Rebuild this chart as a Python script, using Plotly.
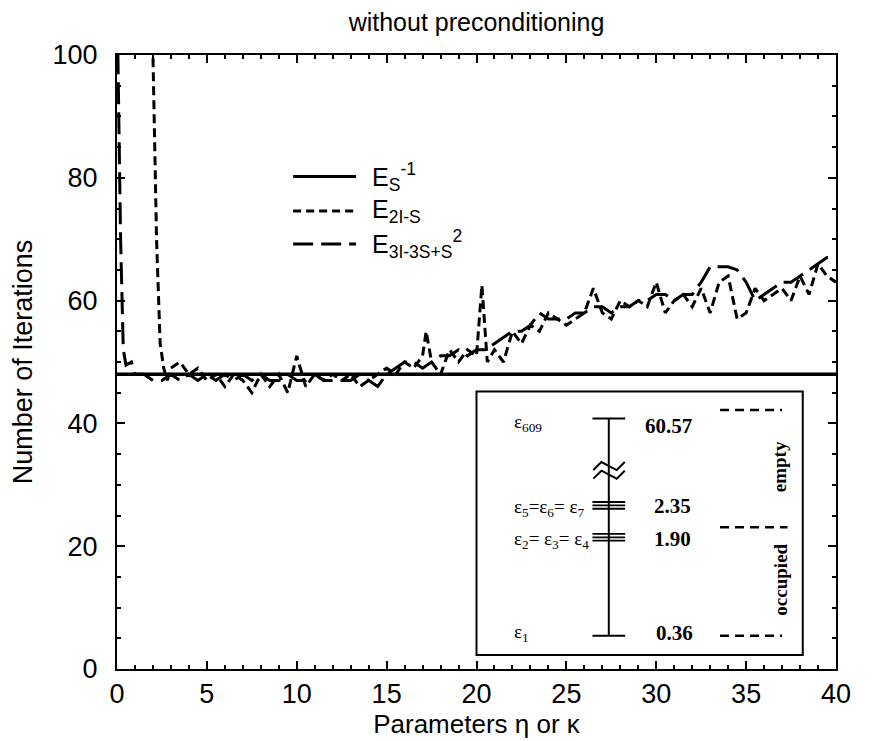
import plotly.graph_objects as go

# ---------------- data ----------------
# E_S^-1 (solid): constant number of iterations
es_x = [0.0, 40.0]
es_y = [48, 48]

# E_2I-S (short dashes)
e2_x = [1.95, 2.0, 2.2, 2.4, 2.6, 2.8,
        3.0, 3.5, 4.0, 4.5, 5.0, 5.5, 6.0, 6.5, 7.0, 7.5, 8.0, 8.5, 9.0, 9.5,
        10.0, 10.5, 11.0, 11.5, 12.0, 12.5, 13.0, 13.5, 14.0, 14.5, 15.0, 15.5,
        16.0, 16.5, 17.0, 17.2, 17.5, 18.0, 18.5, 19.0, 19.5, 20.0, 20.3, 20.6,
        21.0, 21.5, 22.0, 22.5, 23.0, 23.5, 24.0, 24.5, 25.0, 25.5, 26.0, 26.5,
        27.0, 27.5, 28.0, 28.5, 29.0, 29.5, 30.0, 30.5, 31.0, 31.5, 32.0, 32.5,
        33.0, 33.5, 34.0, 34.5, 35.0, 35.5, 36.0, 36.5, 37.0, 37.5, 38.0, 38.5,
        39.0, 39.5, 40.0]
e2_y = [120, 100, 70, 53, 49, 47,
        49, 50, 48, 49, 47, 48, 46, 48, 47, 45, 48, 46, 48, 45,
        51, 46, 48, 47, 48, 47, 48, 46, 47, 48, 49, 48,
        50, 49, 51, 55, 50, 48, 52, 50, 52, 51, 62.5, 50,
        52, 50, 55, 53, 56, 55, 58, 57, 56, 57, 58, 62,
        58, 57, 60, 59, 60, 59, 63, 58, 60, 61, 59, 62,
        58, 63, 64, 57, 58, 62, 60, 61, 62, 60, 64, 61,
        66, 64, 63]

# E_3I-3S+S^2 (long dashes)
e3_x = [0.0, 0.05, 0.2, 0.35, 0.5, 0.8,
        1.0, 1.5, 2.0, 2.5, 3.0, 3.5, 4.0, 4.5, 5.0, 5.5, 6.0, 6.5, 7.0, 7.5,
        8.0, 8.5, 9.0, 9.5, 10.0, 10.5, 11.0, 11.5, 12.0, 12.5, 13.0, 13.5,
        14.0, 14.5, 15.0, 15.5, 16.0, 16.5, 17.0, 17.5, 18.0, 18.5, 19.0, 19.5,
        20.0, 20.5, 21.0, 21.5, 22.0, 22.5, 23.0, 23.5, 24.0, 24.5, 25.0, 25.5,
        26.0, 26.5, 27.0, 27.5, 28.0, 28.5, 29.0, 29.5, 30.0, 30.5, 31.0, 31.5,
        32.0, 32.5, 33.0, 33.5, 34.0, 34.5, 35.0, 35.5, 36.0, 36.5, 37.0, 37.5,
        38.0, 38.5, 39.0, 39.5, 40.0]
e3_y = [120, 100, 70, 52, 49.5, 50,
        48, 48, 47, 47, 48, 47, 48, 47, 48, 47, 48, 47, 48, 47,
        48, 47, 47, 48, 47, 47, 48, 47, 47, 47, 47, 48,
        47, 46, 48, 49, 50, 50, 49, 50, 51, 51, 52, 51,
        52, 52, 53, 54, 55, 55, 56, 58, 57, 57, 57, 58,
        58, 59, 59, 58, 59, 59, 60, 60, 61, 61, 60, 61,
        61, 63, 65.5, 65.5, 65.5, 65, 63, 60, 61, 62, 63, 63,
        64, 65, 66, 67, 67]

legend_labels = ["E<sub>S</sub><sup>-1</sup>",
                 "E<sub>2I-S</sub>",
                 "E<sub>3I-3S+S</sub><sup>2</sup>"]

# inset: eigenvalue spectrum labels
inset_names = ["ε<sub>609</sub>",
               "ε<sub>5</sub>=ε<sub>6</sub>= ε<sub>7</sub>",
               "ε<sub>2</sub>= ε<sub>3</sub>= ε<sub>4</sub>",
               "ε<sub>1</sub>"]
inset_values = ["60.57", "2.35", "1.90", "0.36"]

x_ticks = [0, 5, 10, 15, 20, 25, 30, 35, 40]
y_ticks = [0, 20, 40, 60, 80, 100]

# ---------------- figure ----------------
SANS = "Liberation Sans, Arial, sans-serif"
SERIF = "Liberation Serif, Times New Roman, serif"

SHORT = "9px,5px"
LONG = "22px,8px"

fig = go.Figure()
fig.add_trace(go.Scatter(x=es_x, y=es_y, mode="lines",
                         line=dict(color="black", width=3.5), showlegend=False))
fig.add_trace(go.Scatter(x=e2_x, y=e2_y, mode="lines",
                         line=dict(color="black", width=3, dash=SHORT),
                         showlegend=False))
fig.add_trace(go.Scatter(x=e3_x, y=e3_y, mode="lines",
                         line=dict(color="black", width=3, dash=LONG),
                         showlegend=False))

shapes = []
annotations = []

# custom legend
leg_y = [80.2, 74.6, 69.2]
leg_dash = ["solid", "8px,5px", "20px,8px"]
for ly, ld, lt in zip(leg_y, leg_dash, legend_labels):
    shapes.append(dict(type="line", xref="x", yref="y", x0=9.8, x1=13.3,
                       y0=ly, y1=ly, line=dict(color="black", width=3, dash=ld)))
    annotations.append(dict(x=14.1, y=ly, xref="x", yref="y", text=lt,
                            showarrow=False, xanchor="left", yanchor="middle",
                            font=dict(family=SANS, size=25, color="black")))

# inset box
shapes.append(dict(type="rect", xref="x", yref="y", x0=20.0, x1=38.15,
                   y0=2.3, y1=45.2, fillcolor="white",
                   line=dict(color="black", width=2), layer="above"))
# vertical spectrum axis and caps
shapes.append(dict(type="line", xref="x", yref="y", x0=27.36, x1=27.36,
                   y0=5.4, y1=40.8, line=dict(color="black", width=2)))
for cy in [40.8, 5.4]:
    shapes.append(dict(type="line", xref="x", yref="y", x0=26.45, x1=28.27,
                       y0=cy, y1=cy, line=dict(color="black", width=2)))
for cy in [27.2, 26.65, 26.1, 22.0, 21.45, 20.9]:
    shapes.append(dict(type="line", xref="x", yref="y", x0=26.45, x1=28.27,
                       y0=cy, y1=cy, line=dict(color="black", width=1.8)))
# axis break symbol
for off in [0.0, -1.4]:
    p = "M 26.5,{a} L 26.95,{b} L 27.8,{a} L 28.25,{b}".format(a=32.4 + off, b=33.7 + off)
    shapes.append(dict(type="path", xref="x", yref="y", path=p,
                       line=dict(color="black", width=2)))
# empty / occupied separators
for dy, x1 in zip([42.2, 23.1, 5.4], [37.0, 37.3, 37.0]):
    shapes.append(dict(type="line", xref="x", yref="y", x0=33.55, x1=x1,
                       y0=dy, y1=dy, line=dict(color="black", width=2.5, dash="9px,6px")))

name_y = [40.0, 26.2, 21.0, 5.8]
val_y = [39.5, 26.5, 21.2, 5.9]
for nm, ny in zip(inset_names, name_y):
    annotations.append(dict(x=22.0, y=ny, xref="x", yref="y", text=nm,
                            showarrow=False, xanchor="left", yanchor="middle",
                            font=dict(family=SERIF, size=19, color="black")))
for vv, vy, vx in zip(inset_values, val_y, [30.67, 30.9, 30.9, 31.0]):
    annotations.append(dict(x=vx, y=vy, xref="x", yref="y", text="<b>" + vv + "</b>",
                            showarrow=False, xanchor="center", yanchor="middle",
                            font=dict(family=SERIF, size=21, color="black")))
annotations.append(dict(x=36.9, y=32.9, xref="x", yref="y", text="<b>empty</b>",
                        showarrow=False, textangle=-90,
                        font=dict(family=SERIF, size=19, color="black")))
annotations.append(dict(x=36.9, y=14.6, xref="x", yref="y", text="<b>occupied</b>",
                        showarrow=False, textangle=-90,
                        font=dict(family=SERIF, size=19, color="black")))

axis_common = dict(showline=True, linecolor="black", linewidth=2, mirror="ticks",
                   ticks="inside", tickcolor="black", tickwidth=1.5, ticklen=8,
                   showgrid=False, zeroline=False,
                   tickfont=dict(family=SANS, size=27, color="black"))

fig.update_layout(
    width=874, height=741,
    margin=dict(l=109, r=46, t=47, b=80),
    paper_bgcolor="white", plot_bgcolor="white",
    title=dict(text="without preconditioning", x=0.5, xref="paper",
               xanchor="center", y=0.993, yanchor="top",
               font=dict(family=SANS, size=25, color="black")),
    xaxis=dict(range=[0, 40], tickvals=x_ticks, ticktext=[str(v) for v in x_ticks],
               minor=dict(dtick=1, ticks="inside", ticklen=4, tickcolor="black"),
               ticklabelstandoff=0,
               title=dict(text="Parameters η or κ", standoff=0,
                          font=dict(family=SANS, size=26, color="black")),
               **axis_common),
    yaxis=dict(range=[0, 100], tickvals=y_ticks, ticktext=[str(v) for v in y_ticks],
               minor=dict(dtick=5, ticks="inside", ticklen=4, tickcolor="black"),
               ticklabelstandoff=12,
               title=dict(text="Number of Iterations", standoff=14,
                          font=dict(family=SANS, size=27, color="black")),
               **axis_common),
    shapes=shapes,
    annotations=annotations,
)

fig.write_html("out.html")
